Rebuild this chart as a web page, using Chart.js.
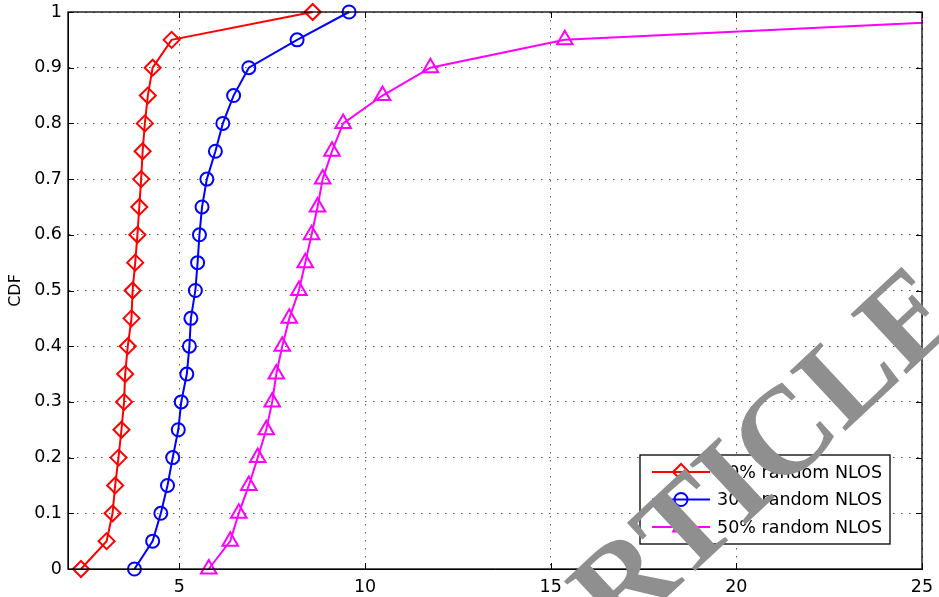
<!DOCTYPE html>
<html>
<head>
<meta charset="utf-8">
<script src="https://cdn.jsdelivr.net/npm/chart.js@4.4.1/dist/chart.umd.min.js"></script>
<style>
  html, body { margin: 0; padding: 0; background: #fff; }
  #wrap { width: 939px; height: 597px; position: relative; }
</style>
</head>
<body>
<div id="wrap"><canvas id="cdf-chart"></canvas></div>
<script>
// CDF levels shared by all three curves
const cdfLevels = [0, 0.05, 0.1, 0.15, 0.2, 0.25, 0.3, 0.35, 0.4, 0.45, 0.5,
  0.55, 0.6, 0.65, 0.7, 0.75, 0.8, 0.85, 0.9, 0.95, 1];

// error values for each NLOS share
const nlos10 = [2.35, 3.04, 3.20, 3.27, 3.36, 3.44, 3.51, 3.54, 3.61, 3.71, 3.74,
  3.81, 3.87, 3.92, 3.97, 4.01, 4.07, 4.15, 4.28, 4.79, 8.59];
const nlos30 = [3.79, 4.28, 4.50, 4.68, 4.82, 4.97, 5.05, 5.20, 5.27, 5.31, 5.43,
  5.49, 5.54, 5.61, 5.74, 5.97, 6.17, 6.46, 6.87, 8.17, 9.57];
const nlos50 = [5.79, 6.37, 6.60, 6.87, 7.11, 7.34, 7.50, 7.61, 7.77, 7.96, 8.22,
  8.39, 8.56, 8.72, 8.86, 9.11, 9.41, 10.47, 11.76, 15.38, 31.0];

const seriesLabels = ['10% random NLOS', '30% random NLOS', '50% random NLOS'];
const xTicks = [5, 10, 15, 20, 25];
const yTicks = [0, 0.1, 0.2, 0.3, 0.4, 0.5, 0.6, 0.7, 0.8, 0.9, 1];

const FONT = 'DejaVu Sans';
const toPoints = (xs) => xs.map((x, i) => ({ x, y: cdfLevels[i] }));

const styles = [
  { color: '#ff0000', pointStyle: 'rectRot', radius: 8 },
  { color: '#0000ff', pointStyle: 'circle', radius: 6.5 },
  { color: '#ff00ff', pointStyle: 'triangle', radius: 9 },
];

function makeDataset(label, xs, st, clip) {
  return {
    label,
    data: toPoints(xs),
    borderColor: st.color,
    borderWidth: 2,
    pointStyle: st.pointStyle,
    pointRadius: st.radius,
    pointHoverRadius: st.radius,
    pointBorderWidth: 2,
    pointBorderColor: st.color,
    pointBackgroundColor: 'rgba(0,0,0,0)',
    tension: 0,
    fill: false,
    clip,
  };
}

// marker shapes for the legend
function drawMarker(ctx, style, x, y, r) {
  ctx.beginPath();
  if (style === 'rectRot') {
    ctx.moveTo(x - r, y); ctx.lineTo(x, y - r); ctx.lineTo(x + r, y); ctx.lineTo(x, y + r);
    ctx.closePath();
  } else if (style === 'circle') {
    ctx.arc(x, y, r, 0, Math.PI * 2);
  } else {
    const a = Math.PI * 2 / 3;
    ctx.moveTo(x, y - r);
    ctx.lineTo(x + Math.sin(a) * r, y - Math.cos(a) * r);
    ctx.lineTo(x + Math.sin(2 * a) * r, y - Math.cos(2 * a) * r);
    ctx.closePath();
  }
  ctx.stroke();
}

const frameAndLegend = {
  id: 'frameAndLegend',
  afterDraw(chart) {
    const { ctx, chartArea: a, scales } = chart;
    ctx.save();
    // axes box
    ctx.strokeStyle = '#000';
    ctx.lineWidth = 1.3;
    ctx.strokeRect(a.left, a.top, a.right - a.left, a.bottom - a.top);
    // inward tick marks on all four sides
    const tl = 6;
    ctx.lineWidth = 1;
    ctx.beginPath();
    xTicks.forEach((v) => {
      const px = Math.round(scales.x.getPixelForValue(v)) + 0.5;
      ctx.moveTo(px, a.bottom); ctx.lineTo(px, a.bottom - tl);
      ctx.moveTo(px, a.top); ctx.lineTo(px, a.top + tl);
    });
    yTicks.forEach((v) => {
      const py = Math.round(scales.y.getPixelForValue(v)) + 0.5;
      ctx.moveTo(a.left, py); ctx.lineTo(a.left + tl, py);
      ctx.moveTo(a.right, py); ctx.lineTo(a.right - tl, py);
    });
    ctx.stroke();

    // legend box, bottom right inside the axes
    const bx = a.right - 282, by = a.bottom - 114, bw = 250, bh = 89;
    ctx.fillStyle = '#fff';
    ctx.fillRect(bx, by, bw, bh);
    ctx.strokeStyle = '#000';
    ctx.lineWidth = 1.3;
    ctx.strokeRect(bx, by, bw, bh);
    ctx.font = '17.5px "' + FONT + '"';
    ctx.textBaseline = 'middle';
    ctx.textAlign = 'left';
    seriesLabels.forEach((lab, i) => {
      const st = styles[i];
      const ly = by + 17 + i * 27.5;
      ctx.strokeStyle = st.color;
      ctx.lineWidth = 2;
      ctx.beginPath();
      ctx.moveTo(bx + 12, ly); ctx.lineTo(bx + 70, ly);
      ctx.stroke();
      drawMarker(ctx, st.pointStyle, bx + 41, ly, st.radius);
      ctx.fillStyle = '#000';
      ctx.fillText(lab, bx + 77, ly + 1);
    });

    // watermark over the figure
    ctx.translate(770, 457);
    ctx.rotate(-43 * Math.PI / 180);
    ctx.font = 'bold 125px "Liberation Serif"';
    ctx.fillStyle = '#8f8f8f';
    ctx.textAlign = 'center';
    ctx.fillText('RTICLE', 0, 0);
    ctx.restore();
  },
};

new Chart(document.getElementById('cdf-chart'), {
  type: 'line',
  data: {
    datasets: [
      makeDataset(seriesLabels[0], nlos10, styles[0], 12),
      makeDataset(seriesLabels[1], nlos30, styles[1], 12),
      makeDataset(seriesLabels[2], nlos50, styles[2], { left: 12, top: 12, right: 1, bottom: 12 }),
    ],
  },
  options: {
    responsive: true,
    maintainAspectRatio: false,
    animation: false,
    events: [],
    layout: { padding: { top: 12, right: 17, left: 0, bottom: 0 } },
    plugins: {
      legend: { display: false },
      tooltip: { enabled: false },
    },
    scales: {
      x: {
        type: 'linear',
        min: 2,
        max: 25,
        afterBuildTicks: (s) => { s.ticks = xTicks.map((v) => ({ value: v })); },
        afterFit: (s) => { s.height = 28; s.paddingLeft = 0; s.paddingRight = 0; },
        ticks: { color: '#000', padding: 8, font: { family: FONT, size: 17.5 }, maxRotation: 0 },
        grid: { color: 'rgba(0,0,0,0.65)', lineWidth: 1, drawTicks: false },
        border: { display: true, color: '#000', width: 1, dash: [1.5, 6.5] },
      },
      y: {
        min: 0,
        max: 1,
        afterBuildTicks: (s) => { s.ticks = yTicks.map((v) => ({ value: v })); },
        afterFit: (s) => { s.width = 68; s.paddingTop = 0; s.paddingBottom = 0; },
        ticks: {
          color: '#000',
          padding: 6,
          font: { family: FONT, size: 17.5 },
          callback: (v) => String(+v.toFixed(1)),
        },
        grid: { color: 'rgba(0,0,0,0.65)', lineWidth: 1, drawTicks: false },
        border: { display: true, color: '#000', width: 1, dash: [1.5, 6.5] },
        title: {
          display: true,
          text: 'CDF',
          color: '#000',
          font: { family: FONT, size: 16 },
          padding: { top: 6, bottom: 0 },
        },
      },
    },
  },
  plugins: [frameAndLegend],
});
</script>
</body>
</html>
